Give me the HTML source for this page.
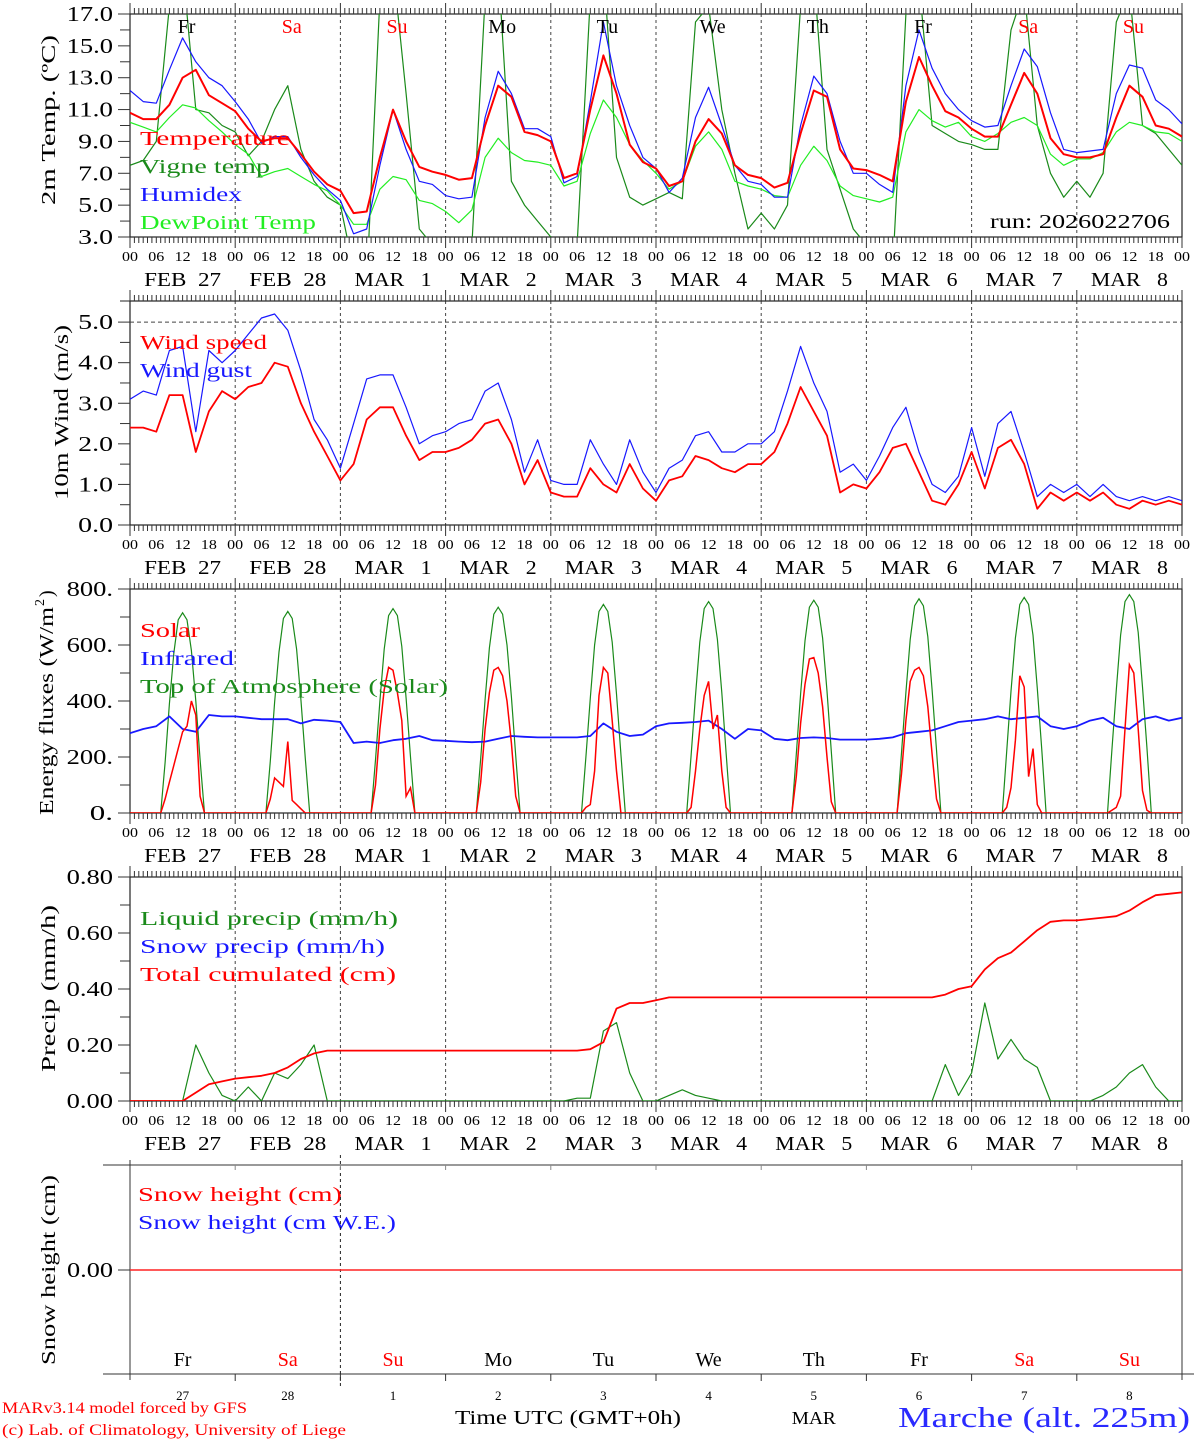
<!DOCTYPE html>
<html><head><meta charset="utf-8"><title>MAR forecast Marche</title>
<style>
html,body{margin:0;padding:0;background:#fff;}
svg{display:block;font-family:"Liberation Serif",serif;}
svg text{white-space:pre;}
</style></head>
<body>
<svg id="chart" width="1194" height="1440" viewBox="0 0 1194 1440" xmlns="http://www.w3.org/2000/svg"></svg>
<script>
// ---------- data (3-hourly unless noted, index 0 = FEB 27 00 UTC) ----------
const dayNames = ["Fr","Sa","Su","Mo","Tu","We","Th","Fr","Sa","Su"];
const dayColors = ["#000","#f00","#f00","#000","#000","#000","#000","#000","#f00","#f00"];
const dateLabels = ["FEB  27","FEB  28","MAR   1","MAR   2","MAR   3","MAR   4","MAR   5","MAR   6","MAR   7","MAR   8"];
const dayNums = ["27","28","1","2","3","4","5","6","7","8"];
const hourLabels = ["00","06","12","18"];

const temperature = [10.8,10.4,10.4,11.3,13.0,13.5,11.9,11.4, 10.9,9.8,9.0,9.2,9.2,8.2,7.1,6.3, 5.9,4.5,4.6,8.0,11.0,9.0,7.4,7.1, 6.9,6.6,6.7,10.0,12.5,11.8,9.6,9.4, 9.0,6.7,7.0,11.0,14.4,12.0,8.8,7.7, 7.3,6.2,6.5,9.0,10.4,9.5,7.5,6.9, 6.7,6.1,6.4,9.5,12.2,11.8,8.5,7.3, 7.2,6.9,6.5,11.5,14.3,12.5,10.9,10.5, 9.8,9.3,9.3,11.3,13.3,12.0,9.2,8.2, 8.0,8.0,8.2,10.5,12.5,11.8,10.0,9.8, 9.3];
const humidex = [12.2,11.5,11.4,13.5,15.5,14.0,13.0,12.5, 11.5,10.4,8.9,9.3,9.3,8.0,6.9,6.0, 5.3,3.2,3.5,7.5,11.0,8.5,6.5,6.3, 5.6,5.4,5.5,10.5,13.4,12.0,9.8,9.8, 9.3,6.4,6.8,11.5,16.5,12.5,10.0,8.0, 7.3,5.8,6.7,10.5,12.4,10.0,7.5,6.5, 6.3,5.5,5.5,10.0,13.1,12.0,9.0,7.0, 7.0,6.3,5.8,12.5,16.0,13.6,12.0,11.0, 10.3,9.9,10.0,12.5,14.8,13.7,10.8,8.5, 8.3,8.4,8.5,12.0,13.8,13.6,11.6,11.0, 10.1];
const dewpoint = [10.2,9.9,9.6,10.5,11.3,11.1,10.3,9.6, 8.8,8.2,6.8,7.1,7.3,6.8,6.3,5.9, 5.0,3.8,3.8,6.0,6.8,6.6,5.3,5.1, 4.6,3.9,4.7,8.0,9.2,8.3,7.8,7.7, 7.5,6.2,6.5,9.5,11.6,10.5,8.8,7.8, 7.0,6.0,6.5,8.7,9.6,8.5,6.5,6.2, 6.0,5.6,5.5,7.5,8.7,7.8,6.2,5.6, 5.4,5.2,5.5,9.6,11.0,10.3,9.9,10.2, 9.3,9.0,9.5,10.2,10.5,10.0,8.2,7.5, 7.9,7.9,8.3,9.6,10.2,10.0,9.6,9.5, 9.0];
const vigne = [7.5,7.8,9.0,17.5,20,11.0,10.8,10.0, 9.6,8.1,9.0,11.0,12.5,8.5,6.5,5.5, 5.0,1.0,0,18,20,12,3.5,2.5, 2.0,1.5,2.5,18,20,6.5,5.0,4.0, 3.0,2.5,2.5,18,20,8.0,5.5,5.0, 5.4,5.8,5.4,16.5,17.5,11.0,7.0,3.5, 4.5,3.5,5.0,17.5,19.5,8.5,6.0,3.5, 2.5,2.0,1.0,17.0,19.0,10.0,9.5,9.0, 8.8,8.5,8.5,16.0,18.5,10.0,7.0,5.5, 6.5,5.5,7.0,16.5,18.5,10.0,9.5,8.5, 7.5];

const windSpeed = [2.4,2.4,2.3,3.2,3.2,1.8,2.8,3.3, 3.1,3.4,3.5,4.0,3.9,3.0,2.3,1.7, 1.1,1.5,2.6,2.9,2.9,2.2,1.6,1.8, 1.8,1.9,2.1,2.5,2.6,2.0,1.0,1.6, 0.8,0.7,0.7,1.4,1.0,0.8,1.5,0.9, 0.6,1.1,1.2,1.7,1.6,1.4,1.3,1.5, 1.5,1.8,2.5,3.4,2.8,2.2,0.8,1.0, 0.9,1.3,1.9,2.0,1.3,0.6,0.5,1.0, 1.8,0.9,1.9,2.1,1.5,0.4,0.8,0.6, 0.8,0.6,0.8,0.5,0.4,0.6,0.5,0.6, 0.5];
const windGust = [3.1,3.3,3.2,4.3,4.4,2.3,4.3,4.0, 4.3,4.7,5.1,5.2,4.8,3.8,2.6,2.1, 1.4,2.5,3.6,3.7,3.7,2.9,2.0,2.2, 2.3,2.5,2.6,3.3,3.5,2.6,1.3,2.1, 1.1,1.0,1.0,2.1,1.5,1.0,2.1,1.3, 0.8,1.4,1.6,2.2,2.3,1.8,1.8,2.0, 2.0,2.3,3.3,4.4,3.5,2.8,1.3,1.5, 1.1,1.7,2.4,2.9,1.8,1.0,0.8,1.2, 2.4,1.2,2.5,2.8,1.8,0.7,1.0,0.8, 1.0,0.7,1.0,0.7,0.6,0.7,0.6,0.7, 0.6];

// hourly daytime values, hours 07..17 of each day (night = 0)
const solarDay = [
 [0,50,110,170,230,290,310,400,350,60,0],
 [0,50,125,110,95,255,45,30,15,0,0],
 [0,100,300,440,520,510,430,330,60,90,0],
 [0,110,300,430,510,520,490,400,250,60,0],
 [0,20,30,150,420,520,500,330,150,0,0],
 [0,20,150,300,420,470,300,350,150,20,0],
 [0,130,320,460,550,555,500,380,200,40,0],
 [0,140,330,470,510,520,490,380,210,50,0],
 [0,20,90,260,490,450,130,230,30,0,0],
 [0,10,20,60,300,530,500,300,80,10,0]];
const toaDay = [
 [0,180,390,570,690,715,690,580,400,190,0],
 [0,185,395,575,695,720,695,585,405,195,0],
 [0,190,400,585,705,730,705,595,410,200,0],
 [0,195,405,590,710,735,710,600,415,205,0],
 [0,200,410,600,720,745,720,610,425,210,0],
 [0,205,420,610,730,755,730,620,430,215,0],
 [0,210,425,615,735,760,735,625,435,220,0],
 [0,215,430,620,740,765,740,630,440,225,0],
 [0,220,435,625,745,770,745,635,445,230,0],
 [0,225,440,635,755,780,755,645,450,235,0]];
const infrared = [285,300,310,345,300,290,350,345, 345,340,335,335,335,320,333,330, 325,250,255,250,260,265,275,260, 258,255,253,255,265,275,272,270, 270,270,270,275,320,290,275,280, 310,320,322,325,330,300,265,300, 295,265,260,268,270,268,262,262, 262,265,270,285,290,295,310,325, 330,335,345,335,340,345,310,300, 310,330,340,310,300,335,345,330, 340];

const liquidPrecip = [0,0,0,0,0,0.2,0.1,0.02, 0,0.05,0,0.1,0.08,0.13,0.2,0, 0,0,0,0,0,0,0,0, 0,0,0,0,0,0,0,0, 0,0,0.01,0.01,0.25,0.28,0.1,0, 0,0.02,0.04,0.02,0.01,0,0,0, 0,0,0,0,0,0,0,0, 0,0,0,0,0,0,0.13,0.02, 0.1,0.35,0.15,0.22,0.15,0.12,0,0, 0,0,0.02,0.05,0.1,0.13,0.05,0, 0];
const totalCum = [0,0,0,0,0,0.03,0.06,0.07, 0.08,0.085,0.09,0.10,0.12,0.15,0.17,0.18, 0.18,0.18,0.18,0.18,0.18,0.18,0.18,0.18, 0.18,0.18,0.18,0.18,0.18,0.18,0.18,0.18, 0.18,0.18,0.18,0.185,0.21,0.33,0.35,0.35, 0.36,0.37,0.37,0.37,0.37,0.37,0.37,0.37, 0.37,0.37,0.37,0.37,0.37,0.37,0.37,0.37, 0.37,0.37,0.37,0.37,0.37,0.37,0.38,0.40, 0.41,0.47,0.51,0.53,0.57,0.61,0.64,0.645, 0.645,0.65,0.655,0.66,0.68,0.71,0.735,0.74, 0.745];
const snowHeight = [0,0,0,0,0,0,0,0,0,0,0];

// ---------- drawing ----------
const svg = document.getElementById('chart');
const NS = 'http://www.w3.org/2000/svg';
const X0 = 130, X1 = 1182, HOURS = 240;
const X = h => X0 + h * (X1 - X0) / HOURS;
function el(tag, attrs, parent) {
  const e = document.createElementNS(NS, tag);
  for (const k in attrs) e.setAttribute(k, attrs[k]);
  (parent || svg).appendChild(e);
  return e;
}
function txt(s, x, y, size, fill, anchor, parent, len) {
  const t = el('text', {x: x, y: y, 'font-size': size, fill: fill || '#000', 'text-anchor': anchor || 'start'}, parent);
  if (len) { t.setAttribute('textLength', len); t.setAttribute('lengthAdjust', 'spacingAndGlyphs'); }
  t.textContent = s;
  return t;
}
function vtitle(s, x, yBottom, len, parent) {
  const t = el('text', {x: 0, y: 0, 'font-size': 20, fill: '#000', transform: `translate(${x},${yBottom}) rotate(-90)`, textLength: len, lengthAdjust: 'spacingAndGlyphs'}, parent);
  t.textContent = s;
  return t;
}
const panels = [
  {name:'temperature-panel', top:14, bot:237, min:3, max:17},
  {name:'wind-panel', top:301, bot:525, min:0, max:5.52},
  {name:'energy-panel', top:589, bot:813, min:0, max:800},
  {name:'precip-panel', top:877, bot:1101, min:0, max:0.8},
];
function Yf(p) { return v => p.bot - (v - p.min) * (p.bot - p.top) / (p.max - p.min); }

panels.forEach((p, pi) => {
  const g = el('g', {});
  
  
  const cp = el('clipPath', {id: 'clip' + pi}, g);
  el('rect', {x: X0, y: p.top, width: X1 - X0, height: p.bot - p.top}, cp);
  for (let d = 1; d < 10; d++) {
    const l = el('line', {x1: X(d*24), x2: X(d*24), y1: p.top, y2: p.bot, stroke: '#444', 'stroke-width': 1, 'stroke-dasharray': '3,3'}, g);
    
    
  }
  el('rect', {x: X0, y: p.top, width: X1 - X0, height: p.bot - p.top, fill: 'none', stroke: '#222', 'stroke-width': 1.2}, g);
  el('line', {x1: 120, x2: X0, y1: p.top, y2: p.top, stroke: '#222'}, g);
  el('line', {x1: 120, x2: X0, y1: p.bot, y2: p.bot, stroke: '#222'}, g);
  let d = '';
  for (let h = 0; h <= HOURS; h++) {
    const x = X(h).toFixed(1);
    const big = h % 24 === 0;
    d += `M${x} ${p.top}V${p.top - (big ? 11 : 6)}M${x} ${p.bot}V${p.bot + (big ? 11 : 6)}`;
  }
  el('path', {d: d, stroke: '#333', 'stroke-width': 1, fill: 'none'}, g);
  const ax = el('g', {}, g);
  
  
  for (let day = 0; day < 10; day++) {
    for (let k = 0; k < 4; k++) txt(hourLabels[k], X(day*24 + k*6), p.bot + 24, 14, '#000', 'middle', ax, 16);
    txt(dateLabels[day], X(day*24 + 12), p.bot + 49, 20, '#000', 'middle', ax, 77);
  }
  txt(hourLabels[0], X(240), p.bot + 24, 14, '#000', 'middle', ax, 16);
});

function yAxis(p, ticks, minors, fmt, parentName) {
  const g = el('g', {});
  
  
  const Y = Yf(p);
  minors.forEach(v => el('line', {x1: 120, x2: X0, y1: Y(v), y2: Y(v), stroke: '#333'}, g));
  ticks.forEach(v => { const s = fmt(v); el('line', {x1: 118, x2: X0, y1: Y(v), y2: Y(v), stroke: '#333'}, g); txt(s, 113, Y(v) + 7, 21, '#000', 'end', g, s.length * 11.6); });
  return g;
}
const g1 = yAxis(panels[0], [3,5,7,9,11,13,15,17], [4,6,8,10,12,14,16], v => v.toFixed(1), 'temperature-y-axis');
vtitle('2m Temp. (ºC)', 55, 205, 170, g1);
const g2 = yAxis(panels[1], [0,1,2,3,4,5], [0.5,1.5,2.5,3.5,4.5], v => v.toFixed(1), 'wind-y-axis');
vtitle('10m Wind (m/s)', 68, 500, 175, g2);
const g3 = yAxis(panels[2], [0,200,400,600,800], [100,300,500,700], v => v + '.', 'energy-y-axis');
{
  const t = el('text', {x: 0, y: 0, 'font-size': 20, transform: 'translate(53,815) rotate(-90)', textLength: 208, lengthAdjust: 'spacingAndGlyphs'}, g3);
  t.textContent = 'Energy fluxes (W/m';
  const s = el('text', {x: 209, y: -9, 'font-size': 14, transform: 'translate(53,815) rotate(-90)'}, g3); s.textContent = '2';
  const s2 = el('text', {x: 218, y: 0, 'font-size': 20, transform: 'translate(53,815) rotate(-90)'}, g3); s2.textContent = ')';
}
const g4 = yAxis(panels[3], [0,0.2,0.4,0.6,0.8], [0.1,0.3,0.5,0.7], v => v.toFixed(2), 'precip-y-axis');
vtitle('Precip (mm/h)', 55, 1072, 167, g4);
{
  const Y = Yf(panels[1]);
  const l = el('line', {x1: X0, x2: X1, y1: Y(5), y2: Y(5), stroke: '#444', 'stroke-dasharray': '4,3'});
  
  
}

function line3h(arr, pi, color, w, name) {
  const p = panels[pi], Y = Yf(p);
  const pts = arr.map((v, i) => X(i*3).toFixed(1) + ',' + Y(v).toFixed(1)).join(' ');
  const pl = el('polyline', {points: pts, fill: 'none', stroke: color, 'stroke-width': w, 'clip-path': `url(#clip${pi})`, 'stroke-linejoin': 'round'});
  
  
}
function lineDaytime(days, pi, color, w, name) {
  const p = panels[pi], Y = Yf(p);
  const pts = [];
  for (let h = 0; h <= HOURS; h++) {
    const day = Math.floor(h / 24), hr = h % 24;
    let v = 0;
    if (day < 10 && hr >= 7 && hr <= 17) v = days[day][hr - 7];
    pts.push(X(h).toFixed(1) + ',' + Y(v).toFixed(1));
  }
  const pl = el('polyline', {points: pts.join(' '), fill: 'none', stroke: color, 'stroke-width': w, 'clip-path': `url(#clip${pi})`});
  
  
}
line3h(vigne, 0, '#1a8a1a', 1.2, 'vigne-temp-line');
line3h(dewpoint, 0, '#22ee22', 1.2, 'dewpoint-line');
line3h(humidex, 0, '#1818ff', 1.2, 'humidex-line');
line3h(temperature, 0, '#ff0000', 2, 'temperature-line');
line3h(windGust, 1, '#1818ff', 1.2, 'wind-gust-line');
line3h(windSpeed, 1, '#ff0000', 1.8, 'wind-speed-line');
lineDaytime(toaDay, 2, '#1a8a1a', 1.2, 'toa-solar-line');
line3h(infrared, 2, '#1818ff', 1.8, 'infrared-line');
lineDaytime(solarDay, 2, '#ff0000', 1.5, 'solar-line');
line3h(liquidPrecip, 3, '#1a8a1a', 1.2, 'liquid-precip-line');
line3h(totalCum, 3, '#ff0000', 1.8, 'total-cumulated-line');

function legend(items, x, y0, step) {
  items.forEach((it, i) => {
    const t = txt(it[0], x, y0 + i*step, 20, it[1], 'start', svg, it[2]);
    
    
  });
}
legend([['Temperature','#ff0000',150],['Vigne temp','#1a8a1a',130],['Humidex','#1818ff',102],['DewPoint Temp','#22ee22',176]], 140, 145, 28);
legend([['Wind speed','#ff0000',127],['Wind gust','#1818ff',112]], 140, 349, 28);
legend([['Solar','#ff0000',60],['Infrared','#1818ff',94],['Top of Atmosphere (Solar)','#1a8a1a',308]], 140, 637, 28);
legend([['Liquid precip (mm/h)','#1a8a1a',258],['Snow precip (mm/h)','#1818ff',245],['Total cumulated (cm)','#ff0000',256]], 140, 925, 28);
legend([['Snow height (cm)','#ff0000',204],['Snow height (cm W.E.)','#1818ff',258]], 138, 1201, 28);
{ const t = txt('run: 2026022706', 990, 228, 20, '#000', 'start', svg, 180);
    }

dayNames.forEach((n, i) => {
  const t = txt(n, X(i*24 + 12) + 4, 33, 20, dayColors[i], 'middle', svg);
  
  
});

// ---------- snow panel ----------
{
  const g = el('g', {});
  
  
  const top = 1165, bot = 1374, y0 = 1270;
  el('line', {x1: 103, x2: X1, y1: top, y2: top, stroke: '#333'}, g);
  el('line', {x1: 103, x2: 1194, y1: bot, y2: bot, stroke: '#333'}, g);
  el('line', {x1: X0, x2: X0, y1: 1160, y2: 1380, stroke: '#333'}, g);
  el('line', {x1: X1, x2: X1, y1: 1160, y2: 1380, stroke: '#333'}, g);
  el('line', {x1: X(48), x2: X(48), y1: 1155, y2: 1386, stroke: '#222', 'stroke-dasharray': '3,3'}, g);
  for (let d = 1; d < 10; d++) {
    el('line', {x1: X(d*24), x2: X(d*24), y1: top, y2: top + 5, stroke: '#888'}, g);
    el('line', {x1: X(d*24), x2: X(d*24), y1: bot, y2: bot + 7, stroke: '#333'}, g);
  }
  el('line', {x1: 118, x2: X0, y1: y0, y2: y0, stroke: '#333'}, g);
  txt('0.00', 113, y0 + 7, 21, '#000', 'end', g, 46);
  vtitle('Snow height (cm)', 55, 1365, 190, g);
  const Y = v => y0 - v * 100;
  const pts = snowHeight.map((v, i) => X(i*24).toFixed(1) + ',' + Y(v).toFixed(1)).join(' ');
  const pl = el('polyline', {points: pts, fill: 'none', stroke: '#ff2222', 'stroke-width': 1.5}, g);
  
  
  dayNames.forEach((n, i) => {
    const tn = txt(n, X(i*24 + 12), 1366, 20, dayColors[i], 'middle', g);
    
    
    txt(dayNums[i], X(i*24 + 12), 1400, 13, '#000', 'middle', g);
  });
  txt('MAR', X(6*24 + 12), 1424, 18, '#000', 'middle', g, 44);
}
{
  const a = txt('Time UTC (GMT+0h)', 568, 1424, 20, '#000', 'middle', svg, 226);
   
  const b = txt('Marche (alt. 225m)', 898, 1427, 28, '#2a2aff', 'start', svg, 292);
   
  const c = txt('MARv3.14 model forced by GFS', 2, 1413, 16, '#ff0000', 'start', svg, 245);
   
  const e = txt('(c) Lab. of Climatology, University of Liege', 2, 1435, 16, '#ff0000', 'start', svg, 344);
   
}
</script>
</body></html>
